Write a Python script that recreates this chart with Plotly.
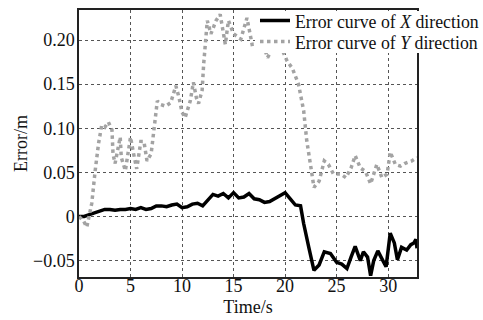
import plotly.graph_objects as go

# X-direction error (black solid)
t_x = [0, 0.5, 1, 1.5, 2, 2.5, 3, 3.5, 4, 4.5, 5, 5.5, 6, 6.5, 7, 7.5, 8, 8.5, 9, 9.5,
       10, 10.5, 11, 11.5, 12, 12.5, 13, 13.5, 14, 14.5, 15, 15.5, 16, 16.5, 17, 17.5,
       18, 18.5, 19, 19.5, 20, 20.5, 21, 21.5, 21.8, 22.3, 22.8, 23.3, 23.8, 24.4, 25.0,
       25.5, 26.0, 26.4, 26.8, 27.3, 27.6, 28.0, 28.3, 28.6, 29.0, 29.4, 29.8, 30.2,
       30.6, 30.9, 31.3, 31.8, 32.2, 32.5, 32.7, 32.8]
err_x = [0.0, 0.0, 0.002, 0.004, 0.007, 0.008, 0.008, 0.007, 0.008, 0.008, 0.009, 0.008,
         0.010, 0.008, 0.009, 0.012, 0.012, 0.011, 0.013, 0.014, 0.010, 0.011, 0.014,
         0.015, 0.012, 0.018, 0.025, 0.023, 0.026, 0.021, 0.027, 0.021, 0.022, 0.026,
         0.020, 0.019, 0.016, 0.017, 0.020, 0.024, 0.027, 0.020, 0.013, 0.012, -0.008,
         -0.035, -0.061, -0.055, -0.040, -0.042, -0.052, -0.054, -0.059, -0.046, -0.034,
         -0.050, -0.040, -0.046, -0.067, -0.050, -0.039, -0.048, -0.057, -0.019, -0.030,
         -0.049, -0.035, -0.038, -0.032, -0.030, -0.026, -0.036]

# Y-direction error (gray dotted)
t_y = [0, 0.44, 0.76, 1.24, 1.57, 1.9, 2.2, 2.5, 2.85, 3.2, 3.3, 3.5, 4.0, 4.1, 4.5, 4.8,
       5.0, 5.3, 5.6, 6.0, 6.3, 6.6, 7.0, 7.3, 7.6, 7.9, 8.4, 8.9, 9.4, 9.7, 10.0, 10.3,
       10.8, 11.1, 11.4, 11.6, 11.95, 12.1, 12.45, 12.8, 13.3, 13.7, 14.2, 14.5, 15.0,
       15.7, 16.3, 16.8, 17.3, 17.8, 18.3, 19.0, 19.6, 20.2, 20.7, 21.0, 21.3, 21.8,
       22.1, 22.5, 22.8, 23.3, 23.8, 24.2, 24.7, 25.4, 25.9, 26.4, 26.8, 27.3, 27.8,
       28.3, 28.9, 29.4, 29.9, 30.2, 30.7, 31.2, 31.6, 32.3, 32.8]
err_y = [0.0, -0.005, -0.012, 0.015, 0.052, 0.083, 0.103, 0.101, 0.107, 0.098, 0.071,
         0.060, 0.090, 0.067, 0.052, 0.078, 0.090, 0.071, 0.054, 0.085, 0.085, 0.063,
         0.071, 0.101, 0.131, 0.127, 0.125, 0.129, 0.148, 0.135, 0.118, 0.112, 0.131,
         0.152, 0.134, 0.128, 0.143, 0.173, 0.222, 0.207, 0.222, 0.229, 0.195, 0.222,
         0.207, 0.201, 0.225, 0.195, 0.196, 0.197, 0.180, 0.196, 0.192, 0.176, 0.168,
         0.160, 0.150, 0.120, 0.086, 0.056, 0.033, 0.040, 0.063, 0.059, 0.048, 0.048,
         0.044, 0.055, 0.069, 0.055, 0.051, 0.037, 0.059, 0.044, 0.048, 0.073, 0.059,
         0.057, 0.060, 0.063, 0.067]

x_ticks = [0, 5, 10, 15, 20, 25, 30]
y_ticks = [-0.05, 0, 0.05, 0.10, 0.15, 0.20]
y_ticktext = ["\u22120.05", "0", "0.05", "0.10", "0.15", "0.20"]

font_family = "Liberation Serif, Times New Roman, serif"

fig = go.Figure()
fig.add_trace(go.Scatter(
    x=t_x, y=err_x, mode="lines", name="Error curve of <i>X</i> direction",
    line=dict(color="black", width=3.5), legend="legend"))
fig.add_trace(go.Scatter(
    x=t_y, y=err_y, mode="lines", name="Error curve of <i>Y</i> direction",
    line=dict(color="#a3a3a3", width=3.5, dash="dot"), legend="legend2"))

axis_common = dict(
    showline=True, linecolor="#222", linewidth=1.5, mirror=True,
    showgrid=True, gridcolor="#555", gridwidth=1, griddash="dot",
    zeroline=False, ticks="", automargin=False,
    tickfont=dict(family=font_family, size=18, color="#111"),
)

fig.update_xaxes(range=[0, 32.8], tickvals=x_ticks, ticklabelstandoff=-8,
                 title=dict(text="Time/s", font=dict(family=font_family, size=18, color="#111"),
                            standoff=5),
                 **axis_common)
fig.update_yaxes(range=[-0.0686, 0.234], tickvals=y_ticks, ticktext=y_ticktext,
                 ticklabelstandoff=-1,
                 title=dict(text="Error/m", font=dict(family=font_family, size=18, color="#111"),
                            standoff=1),
                 **axis_common)

# white panel behind the legend (hides the frame and curves there, as in the original)
fig.add_shape(type="rect", xref="paper", yref="paper",
              x0=0.5207, x1=1.2, y0=0.839, y1=0.9963,
              fillcolor="white", line=dict(width=0), layer="above")

legend_common = dict(x=0.5207, xanchor="left", yanchor="top",
                     bgcolor="rgba(0,0,0,0)", borderwidth=0,
                     font=dict(family=font_family, size=17.8, color="#111"),
                     itemwidth=30)

fig.update_layout(
    width=483, height=320,
    margin=dict(l=79, r=66, t=10, b=43, autoexpand=False),
    paper_bgcolor="white", plot_bgcolor="white",
    showlegend=True,
    legend=dict(y=1.028, **legend_common),
    legend2=dict(y=0.9495, **legend_common),
)

fig.write_html("out.html", config={"displayModeBar": False},
               post_script="document.body.style.margin='0';document.body.style.overflow='hidden';")
